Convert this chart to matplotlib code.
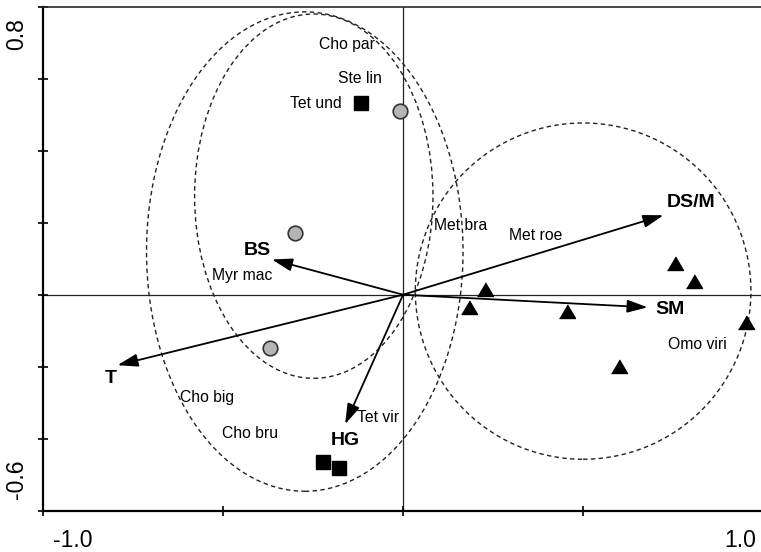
import matplotlib
matplotlib.use("Agg")
import matplotlib.pyplot as plt
from matplotlib.patches import Ellipse

plt.rcParams['font.family'] = ['Liberation Sans', 'DejaVu Sans']

# Environmental variable vectors (biplot arrows)
env_names = ['DS/M', 'SM', 'BS', 'T', 'HG']
env_x = [0.723, 0.679, -0.364, -0.793, -0.161]
env_y = [0.221, -0.035, 0.098, -0.196, -0.360]

# Species scores (text labels)
species_names = ['Cho par', 'Ste lin', 'Tet und', 'Met bra', 'Met roe',
                 'Myr mac', 'Omo viri', 'Cho big', 'Cho bru', 'Tet vir']
species_x = [-0.156, -0.120, -0.242, 0.159, 0.367,
             -0.448, 0.818, -0.545, -0.426, -0.070]
species_y = [0.697, 0.600, 0.533, 0.193, 0.166,
             0.054, -0.138, -0.285, -0.386, -0.341]

# Site scores by group
circle_x = [-0.008, -0.300, -0.370]
circle_y = [0.511, 0.171, -0.149]
square_x = [-0.117, -0.223, -0.178]
square_y = [0.533, -0.464, -0.483]
triangle_x = [0.228, 0.184, 0.456, 0.754, 0.807, 0.951, 0.601]
triangle_y = [0.012, -0.038, -0.049, 0.085, 0.035, -0.080, -0.202]

# Group envelopes: centre x, centre y, width, height
env_cx = [-0.273, -0.248, 0.500]
env_cy = [0.120, 0.274, 0.010]
env_w = [0.879, 0.662, 0.932]
env_h = [1.333, 1.013, 0.935]

# Axis ticks and end labels
x_ticks = [-1.0, -0.5, 0.0, 0.5]
y_ticks = [-0.6, -0.4, -0.2, 0.0, 0.2, 0.4, 0.6, 0.8]
x_end_labels = ['-1.0', '1.0']
y_end_labels = ['0.8', '-0.6']

fig = plt.figure(figsize=(7.61, 5.52), dpi=100)
W, H = 761, 552
ax = fig.add_axes([43 / W, 41.5 / H, 718 / W, 503.5 / H])
ax.set_xlim(-1.0, 0.994)
ax.set_ylim(-0.6, 0.8)

# Frame
ax.spines['right'].set_visible(False)
ax.spines['left'].set_linewidth(1.6)
ax.spines['bottom'].set_linewidth(1.6)
ax.spines['top'].set_linewidth(1.2)
ax.spines['top'].set_color('#2a2a2a')

ax.set_xticks(x_ticks)
ax.set_yticks(y_ticks)
ax.set_xticklabels([])
ax.set_yticklabels([])
ax.tick_params(direction='inout', length=6.5, width=1.2, colors='black')

# Zero lines
ax.axhline(0, color='#222222', lw=0.9, zorder=1)
ax.axvline(0, color='#222222', lw=0.9, zorder=1)

# Group envelopes
for cx, cy, w, h in zip(env_cx, env_cy, env_w, env_h):
    ax.add_patch(Ellipse((cx, cy), w, h, fill=False, edgecolor='#222222',
                         lw=1.0, linestyle=(0, (3.2, 2.4)), zorder=2))

# Site symbols
ax.plot(circle_x, circle_y, 'o', ms=10.5, mfc='#b5b5b5', mec='#333333',
        mew=1.2, zorder=5, clip_on=False)
ax.plot(square_x, square_y, 's', ms=9.5, color='black', zorder=5)
tri = [(-1, -0.75), (1, -0.75), (0, 0.95)]
ax.plot(triangle_x, triangle_y, linestyle='none', marker=tri, ms=11.5,
        color='black', zorder=5, clip_on=False)

# Species labels
for name, sx, sy in zip(species_names, species_x, species_y):
    ax.text(sx, sy, name, fontsize=11.3, ha='center', va='center', zorder=6)

# Environmental arrows and their labels (offsets in pixels)
label_offsets = {'DS/M': (28, 13), 'SM': (22, -2), 'BS': (-15, 9),
                 'T': (-7, -13), 'HG': (0, -16)}
for name, ex, ey in zip(env_names, env_x, env_y):
    ax.annotate('', xy=(ex, ey), xytext=(0, 0),
                arrowprops=dict(arrowstyle='-|>,head_length=0.95,head_width=0.3',
                                mutation_scale=13, lw=1.3, color='black',
                                shrinkA=0, shrinkB=0), zorder=4)
    dx, dy = label_offsets[name]
    ax.annotate(name, xy=(ex, ey), xytext=(dx, dy), textcoords='offset pixels',
                fontsize=14, fontweight='bold', ha='center', va='center', zorder=6)

# End labels of the axes
ax.annotate(x_end_labels[0], xy=(0, 0), xycoords='axes fraction',
            xytext=(30, -30), textcoords='offset pixels',
            fontsize=16.5, ha='center', va='center', annotation_clip=False)
ax.annotate(x_end_labels[1], xy=(1, 0), xycoords='axes fraction',
            xytext=(-21, -30), textcoords='offset pixels',
            fontsize=16.5, ha='center', va='center', annotation_clip=False)
ax.annotate(y_end_labels[0], xy=(0, 1), xycoords='axes fraction',
            xytext=(-26, -27), textcoords='offset pixels', rotation=90,
            fontsize=16.5, ha='center', va='center', annotation_clip=False)
ax.annotate(y_end_labels[1], xy=(0, 0), xycoords='axes fraction',
            xytext=(-26, 31), textcoords='offset pixels', rotation=90,
            fontsize=16.5, ha='center', va='center', annotation_clip=False)

fig.savefig('out.png', dpi=100)
